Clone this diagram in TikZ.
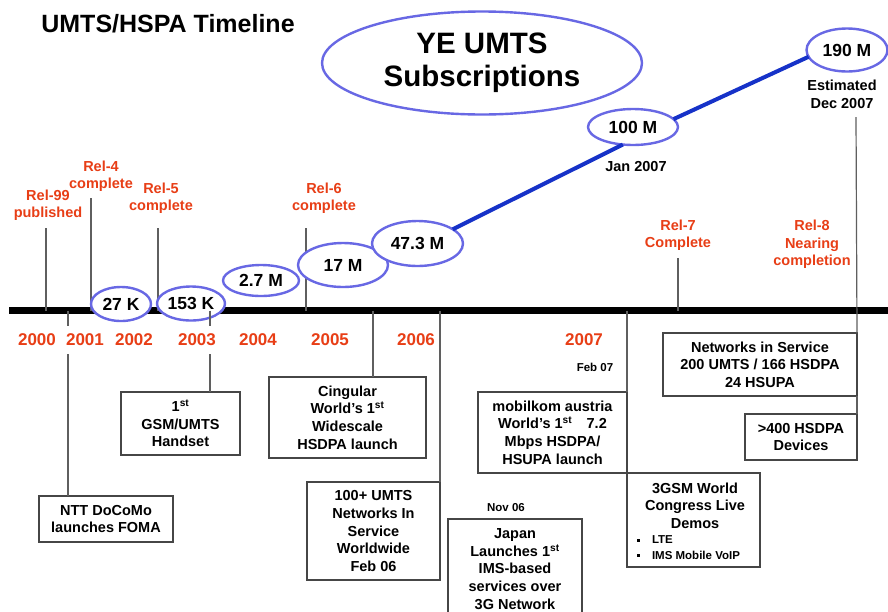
\documentclass[tikz,border=0pt]{standalone}
\usepackage{fontspec}
\setmainfont{Liberation Sans}
\usetikzlibrary{shapes.geometric}

\definecolor{relred}{RGB}{232,62,22}
\definecolor{ringblue}{RGB}{104,104,228}
\definecolor{trendblue}{RGB}{22,50,200}
\definecolor{rulegray}{RGB}{95,95,95}
\definecolor{boxgray}{RGB}{70,70,70}

\newcommand\fsz[2]{\fontsize{#1}{#2}\selectfont}

\begin{document}
\begin{tikzpicture}[x=1pt,y=-1pt,
  every node/.style={inner sep=0pt, outer sep=0pt},
  rel/.style={text=relred, font=\fsz{14.5}{17.4}\bfseries, align=center},
  yr/.style={text=relred, fill=white, inner xsep=1pt, inner ysep=8pt,
             font=\fsz{17}{20}\bfseries},
  tally/.style={ellipse, draw=ringblue, line width=2.4pt, fill=white,
                font=\fsz{17.5}{20}\bfseries},
  event/.style={rectangle, draw=boxgray, line width=1.2pt, fill=white,
                align=center, font=\fsz{14.5}{17.6}\bfseries},
  plain/.style={font=\fsz{14.5}{17.4}\bfseries, align=center},
  datenote/.style={font=\fsz{11.5}{14}\bfseries},
  lead/.style={draw=rulegray, line width=1.2pt},
  trend/.style={draw=trendblue, line width=4pt},
]
\fill[white] (0,0) rectangle (888,611);
\clip (0,0) rectangle (888,611);

% title
\node[font=\fsz{25}{28}\bfseries] (title) at (168,24) {UMTS/HSPA Timeline};

% the time axis
\coordinate (barL) at (9,310.5);
\coordinate (barR) at (888,310.5);
\draw[line width=7.2pt] (barL) -- (barR);

% release markers above the axis
\coordinate (t99) at (46,228);
\coordinate (t4)  at (91,198);
\coordinate (t5)  at (158,228);
\coordinate (t6)  at (306,228);
\coordinate (t7)  at (678,258);
\coordinate (t8)  at (856,117);
\draw[lead] (t99) -- (t99 |- barL);
\draw[lead] (t4)  -- (t4 |- barL);
\draw[lead] (t5)  -- (t5 |- barL);
\draw[lead] (t6)  -- (t6 |- barL);
\draw[lead] (t7)  -- (t7 |- barL);

\node[rel] (rel99) at (48,205.5)  {Rel-99\\published};
\node[rel] (rel4)  at (101,176.5) {Rel-4\\complete};
\node[rel] (rel5)  at (161,198.5) {Rel-5\\complete};
\node[rel] (rel6)  at (324,198.5) {Rel-6\\complete};
\node[rel] (rel7)  at (678,235.5) {Rel-7\\Complete};
\node[rel] (rel8)  at (812,244.5) {Rel-8\\Nearing\\completion};

% subscription counts
\node[tally, minimum width=60pt, minimum height=34pt] (e27)  at (121,304)    {27 K};
\node[tally, minimum width=68pt, minimum height=34pt] (e153) at (191,303.5)  {153 K};
\node[tally, minimum width=76pt, minimum height=31pt] (e27m) at (261,280.5)  {2.7 M};
\node[tally, minimum width=90pt, minimum height=44pt] (e17)  at (343,265)    {17 M};
\node[tally, minimum width=91pt, minimum height=45pt] (e47)  at (417.5,243.5){47.3 M};
\node[tally, minimum width=90pt, minimum height=36pt] (e100) at (633,127)    {100 M};
\node[tally, minimum width=81pt, minimum height=43pt] (e190) at (847,50)     {190 M};

\draw[trend] (e47.22) -- (e100.240);
\draw[trend] (e100.11) -- (e190.190);

\node[ellipse, draw=ringblue, line width=2.4pt, minimum width=320pt,
      minimum height=103pt, align=center, font=\fsz{29.5}{33}\bfseries]
      (ye) at (482,63) {YE UMTS\\Subscriptions};

\node[plain] (jan) at (636,167) {Jan 2007};
\node[plain] (est) at (842,94.5) {Estimated\\Dec 2007};

% leads from the axis down to the events
\coordinate (b1) at (68,310.5);
\coordinate (b2) at (210,310.5);
\coordinate (b3) at (373,310.5);
\coordinate (b4) at (440,310.5);
\coordinate (b5) at (627,310.5);

% events
\node[event, minimum width=134pt, minimum height=46pt] (ntt) at (106,519)
  {NTT DoCoMo\\launches FOMA};
\node[event, minimum width=119pt, minimum height=63pt] (gsm) at (180.5,423.5)
  {1\textsuperscript{st}\\GSM/UMTS\\Handset};
\node[event, minimum width=157pt, minimum height=81pt] (cing) at (347.5,417.5)
  {Cingular\\World’s 1\textsuperscript{st}\\Widescale\\HSDPA launch};
\node[event, minimum width=133pt, minimum height=98pt] (hundred) at (373.5,531)
  {100+ UMTS\\Networks In\\Service\\Worldwide\\Feb 06};
\node[event, minimum width=134pt, minimum height=100pt] (japan) at (515,569)
  {Japan\\Launches 1\textsuperscript{st}\\IMS-based\\services over\\3G Network};
\node[event, minimum width=149pt, minimum height=81pt] (mob) at (552.5,432.5)
  {mobilkom austria\\World’s 1\textsuperscript{st}\quad 7.2\\Mbps HSDPA/\\HSUPA launch};
\node[event, minimum width=133pt, minimum height=94pt] (congress) at (693.5,520) {};
\node[event, minimum width=194pt, minimum height=63pt] (net) at (760,364.5)
  {Networks in Service\\200 UMTS / 166 HSDPA\\24 HSUPA};
\node[event, minimum width=112pt, minimum height=46pt] (dev) at (801,437)
  {>400 HSDPA\\Devices};

\draw[lead] (b1) -- (b1 |- ntt.north);
\draw[lead] (b2) -- (b2 |- gsm.north);
\draw[lead] (b3) -- (b3 |- cing.north);
\draw[lead] (b4) -- (hundred.north east);
\draw[lead] (b5) -- (mob.north east);
\draw[lead] (t8) -- (net.north east);
\draw[lead] (net.south east) -- (dev.north east);

% years, set over the leads
\node[yr] (y2000) at (37,340)  {2000};
\node[yr] (y2001) at (85,340)  {2001};
\node[yr] (y2002) at (134,340) {2002};
\node[yr] (y2003) at (197,340) {2003};
\node[yr] (y2004) at (258,340) {2004};
\node[yr] (y2005) at (330,340) {2005};
\node[yr] (y2006) at (416,340) {2006};
\node[yr] (y2007) at (584,340) {2007};

% congress box contents
\node[plain] (congresstext) at (695,505.5) {3GSM World\\Congress Live\\Demos};
\node[fill=black, minimum size=3pt] (blt1) at (638,540) {};
\node[fill=black, minimum size=3pt] (blt2) at (638,555) {};
\node[datenote, anchor=west] (lte) at (652,540) {LTE};
\node[datenote, anchor=west] (voip) at (652,555) {IMS Mobile VoIP};

% month notes
\node[datenote] (feb) at (595,367) {Feb 07};
\node[datenote] (nov) at (506,508) {Nov 06};
\end{tikzpicture}
\end{document}
